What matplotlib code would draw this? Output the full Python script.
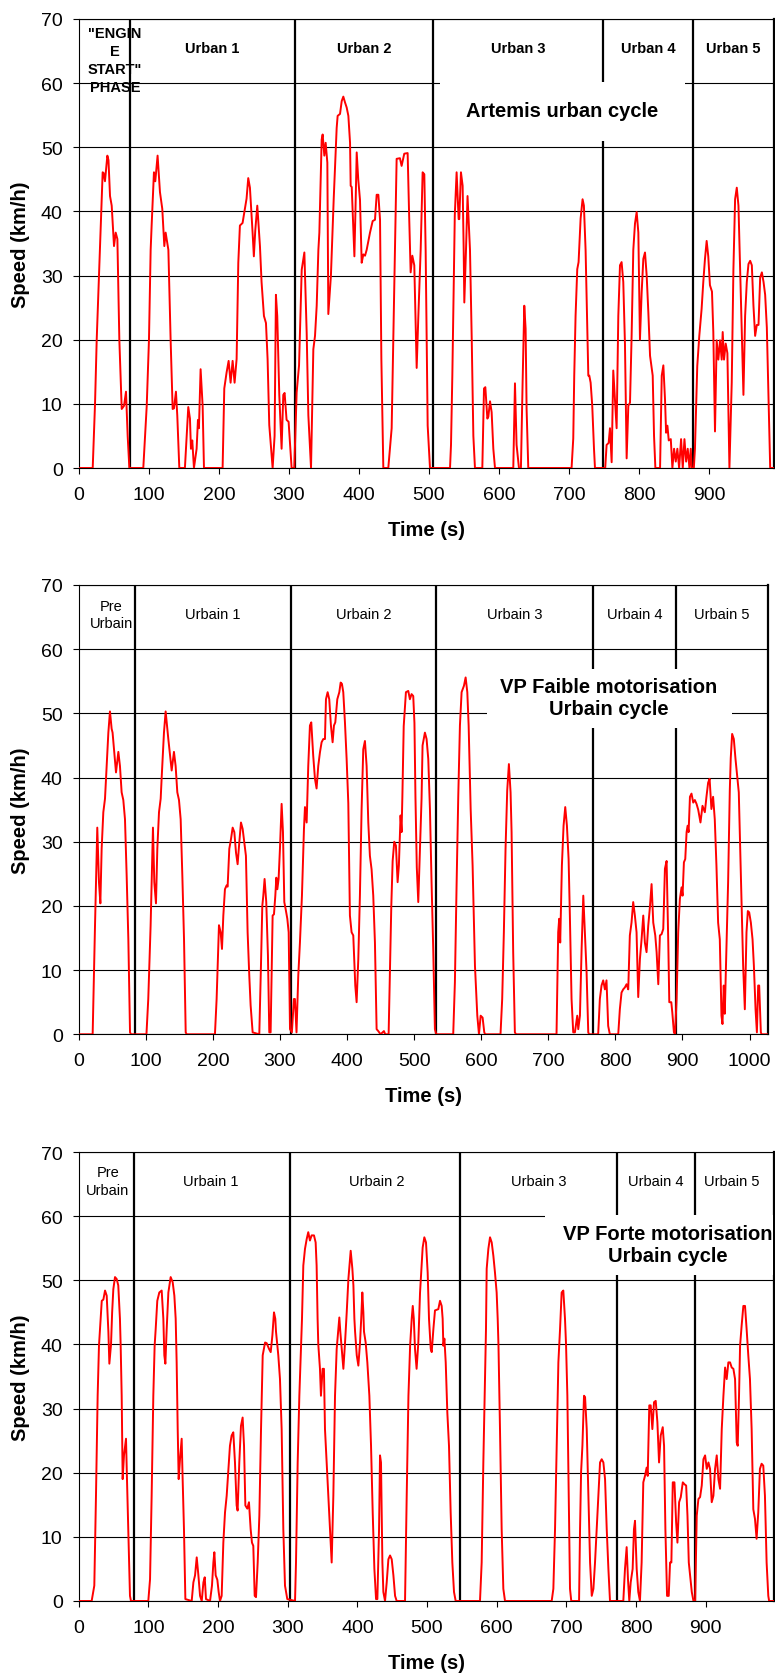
import matplotlib
matplotlib.use('Agg')
import matplotlib.pyplot as plt
import numpy as np
from matplotlib.patches import Rectangle

plt.rcParams['font.family'] = ['Liberation Sans', 'DejaVu Sans']

# ---------------- data (time s, speed km/h) ----------------
artemis_pts = [
(0,0),(20,0),(23.3,10),(25.7,20),(30.4,34.5),(34.2,46.1),(35.5,46),(37.5,44.7),(40.9,48.7),(42.5,48),(44.7,42.4),(47.1,40.9),(50.4,34.6),(52.8,36.7),(55.2,35.7),(58,20),(61.4,9.2),(64.7,9.7),(67.5,11.9),(69.9,5),(72.3,0),
(92.2,0),(97.1,9.7),(100.3,20),(102.7,34),(104.1,37.8),(107.4,46.1),(109.3,44.7),(112.6,48.7),(116,43),(119.3,40.4),(122.2,34.6),(124.1,36.7),(128,34),(131.2,20),(134.1,9.2),(136,9.3),(138.8,11.9),(140.7,8.2),(143.6,0),
(151.6,0),(156.4,9.5),(158.8,7.7),(160.2,3),(162.1,4.3),(164.5,0),(168.3,3),(170.2,7.5),(171.6,6.2),(174,15.4),(176.9,9.7),(178.8,0),
(205.4,0),(207.8,12.4),(211.1,14.9),(214,16.7),(216.8,13.3),(219.7,16.7),(222.5,13.3),(225.4,17),(227.8,32),(230.1,37.8),(233.9,38.2),(239.6,42),(242,45.2),(244.4,43.7),(248.2,36.7),(250,33),(252,37),(254.9,40.9),(258.7,34.6),(261,29),(264.4,23.7),(267.3,22.6),(269.6,17),(272,6.7),(276.8,0),(279.6,5),(281.5,27),(283.4,23.7),(286.3,11.4),(289.6,3),(292,11.4),(293.9,11.7),(296.7,7.5),(299.6,7.2),(303.9,0),(307.7,0),
(311.1,11.8),(314.5,16),(318.3,30.9),(322.1,33.6),(325.4,21.1),(327.8,8.2),(331.6,0),(334.9,18.5),(337.3,20.6),(339.7,25.3),(342.1,34),(343.5,36.7),(346.8,51.2),(348.2,52),(350.6,48.7),(352.5,50.7),(354.9,47.6),(356.3,24),(360,30),(364,42),(368.2,53),(369.6,54.9),(373,55.2),(375.4,57.2),(377.7,57.9),(380.1,57),(382.5,56.2),(384.9,54.9),(387.3,50.7),(388.2,44),(389.7,43.8),(392,37),(393.5,33),(395,40),(396.8,49.2),(399,45),(401.5,41.8),(403.9,32),(406.3,33.3),(408.7,33.1),(411,34),(415.8,36.7),(419.6,38.5),(422.9,38.7),(425.3,42.6),(427.7,42.6),(430.1,38.7),(432,17),(434.8,0),
(441.9,0),(446.7,6.2),(449.1,20),(451.4,34),(453.8,48.2),(458.5,48.3),(460.9,47.1),(464.7,49),(469.5,49.1),(471.5,40),(473.8,30.5),(476.2,33.1),(479,31.6),(482.4,15.6),(484.8,23.7),(488.1,34),(490.9,46.1),(493.3,45.8),(495.2,34),(498.1,6.6),(501.4,0),
(530,0),(531.4,3.6),(533.3,14.4),(534.7,23.7),(535.5,30),(536.8,39.4),(539.4,46.1),(542.3,38.8),(543.2,38.8),(545.6,46.1),(548,44),(549.5,34),(550.4,25.8),(552.8,34),(555,42.4),(558.5,34),(561,20),(563.3,5),(565.6,0),
(576.1,0),(578.5,12.4),(580.4,12.6),(583.3,7.7),(584.7,8),(587.1,10.4),(589.4,8.7),(591.8,3),(594.2,0),
(620.3,0),(622.7,13.2),(625,3.6),(628.4,0),(631.2,0),(633.6,13.3),(636,25.3),(637.9,21.7),(639.3,9.2),(641.7,0),
(703.5,0),(705.9,4.6),(707.3,14.4),(709.2,23.7),(711.6,31),(713.5,32.1),(716.4,38.9),(719.2,41.9),(721.1,40.9),(723.5,34),(725,26.4),(727.4,14.4),(728.8,14.4),(730.7,13.3),(733,9.7),(735.5,3),(736.9,0),
(751.5,0),(753.5,3.6),(756.4,3.9),(758.3,6.2),(760.7,0.9),(763,15.2),(765.4,10.6),(767.8,6.2),(770.2,23.7),(772.6,31.6),(774.9,32.1),(777.3,29),(779.7,19.3),(782.1,1.5),(784.5,9.7),(786.9,10.2),(789.2,20.6),(791.6,34),(794,38.1),(796.4,39.9),(798.8,36.7),(801.1,20),(803.5,27.3),(805.9,32.6),(808.3,33.6),(810.7,30),(813.1,24.2),(815.5,17.5),(819.3,14.4),(821.2,5),(823.1,0),
(829.8,0),(832.2,14.4),(834.5,16),(836.9,10.6),(838.4,5.5),(840.3,6.6),(842.2,4.3),(845.1,4.5),(847.4,0),(849.8,3),(852.2,1),(854.5,3),(857,0),(859.8,4.5),(862.2,0),(864.6,4.5),(867,1),(869.3,3),(871.7,0),(873.6,3),(875,0),(878,0),
(879.6,3),(882.9,15.9),(885.8,20.6),(889.1,24.8),(891.5,29),(893.9,32.6),(896.3,35.4),(898.6,33),(901,28.5),(903.9,27.5),(905.8,21.2),(908.2,5.7),(910.6,19.9),(913,16.9),(915.4,19.9),(917.8,16.9),(919.2,21.2),(921.1,16.9),(923.5,19.4),(925.9,17.9),(928.8,0),(932.1,13.3),(934.5,31),(936.9,41.9),(939.3,43.7),(941.7,40.9),(944.1,31),(946.5,21.2),(948.8,11.4),(951.2,23.7),(953.6,29),(956,31.8),(958.4,32.3),(960.8,31.6),(963.1,25.3),(965.5,20.6),(967.9,22.3),(970.3,22.3),(972.7,29.7),(975.1,30.5),(977.5,29),(979.8,27),(982.2,21.9),(984.6,10.6),(987,0),(993,0)]

faible_pts = [
(0,0),(20.8,0),(24.3,16.9),(27.7,32.2),(30.2,23.7),(32.3,20.4),(34.2,28.9),(36.7,34.6),(39.2,36.7),(40.7,39.8),(44.2,47),(46.6,50.3),(49.1,47.6),(50.5,47),(55.6,40.8),(59.1,44),(61.5,41.8),(64,37.7),(66.5,36.5),(69,33.5),(71.5,24.7),(74,14.8),(76.5,0.3),(78,0),
(101,0),(103.7,5.5),(107.2,16.9),(110.7,32.2),(112.7,23.7),(115.2,20.4),(117.2,28.9),(119.7,34.6),(122.2,36.7),(123.6,39.8),(127.1,47),(129.6,50.3),(132.1,47.6),(133.6,46),(138.6,41.1),(142,44),(144.5,41.8),(147,37.7),(149.5,36.5),(152,33.5),(154.5,24.7),(157,14.8),(159.5,0.3),(161,0),
(203.1,0),(205.6,5.5),(209.1,17),(211.6,15.9),(213.6,13.3),(215.6,18.5),(218,22.6),(220.5,23.2),(222,23),(224.5,28.9),(227,30.4),(229.5,32.2),(232,31.5),(234.5,28.3),(236.9,26.5),(239.4,29.9),(241.9,33),(244.4,32),(246.9,29.9),(249.3,27.8),(251.8,15.9),(254.3,9.1),(256.3,4.5),(259.3,0.3),
(269.2,0),(271.7,10.7),(273.7,20),(275.2,21.6),(277.1,24.2),(279.6,20.6),(282.1,12.3),(284.1,0.3),(286.1,0.3),(289.1,18.5),(291.1,18.7),(293.1,21.6),(294.6,24.4),(296.1,22.6),(298,24.2),(300,28.9),(302.5,35.9),(304.5,31.5),(306.5,20.6),(308.5,19.5),(311,18),(313,15.9),(315,0.8),(317.8,0.3),(320.8,5.5),(322.3,5.5),(324.7,0.3),
(327.3,9.1),(329.8,14.3),(332.8,21.6),(335.8,32),(337.3,35.4),(339.8,33),(342.2,41.8),(344.7,48.1),(346.7,48.6),(349.6,43.4),(352.2,39.8),(354.6,38.3),(357.1,41.8),(359.6,43.9),(362.1,45.5),(364.6,46),(367.1,46),(368.6,52.2),(371.1,53.3),(373.5,52.2),(376,48.1),(378.5,45.5),(380.5,48.1),(382.5,48.6),(385.5,52.2),(388.5,53.3),(390.5,54.8),(392.4,54.6),(394.4,53.3),(396.9,48.6),(399.4,42.9),(401.9,36),(404.3,18.5),(406.8,15.9),(409.3,15.4),(412.3,7.6),(414.3,5),(416.8,11.7),(419.2,21.6),(421.7,35),(424.2,44.4),(426.7,45.7),(429.2,41.8),(431.7,33),(434.1,27.8),(436.6,25.7),(439.1,21.6),(441.6,14.3),(444.1,0.8),(446.6,0.5),(450,0),(455,0.5),(457,0),
(462,0),(464,10),(466,20),(468,27),(470.4,30),(472.9,29.4),(475.4,23.7),(477.3,26.3),(479.8,34.1),(481.3,31.5),(482.5,37),(484.5,48),(487.8,53.3),(491.3,53.5),(493.7,52.2),(496.2,53),(498.7,52.7),(500.5,48.5),(502,37),(504,26),(506.2,20.6),(508.7,28.9),(511.1,36.7),(512.6,45),(516.1,47),(518.6,46),(521.1,42.9),(523.6,35.1),(526,23.7),(528.5,13.3),(531,0.8),(533,0),
(558.3,0),(560.8,8.1),(563.3,23.1),(565.8,37),(568.3,48.1),(570.8,53.3),(574.3,54.3),(576.8,55.6),(579.3,53.3),(581.3,48.1),(584.3,35.1),(587.2,26.3),(590.7,10.7),(594.2,2.9),(596.7,0),(599.2,2.9),(602.1,2.6),(604.6,0.3),(606,0),
(628.8,0),(631.3,5.5),(633.8,15.9),(636.3,28.9),(638.8,38),(641.3,42.1),(643.8,37.7),(645.3,31.5),(647.7,12.8),(650.2,0.3),(652,0),
(712.3,0),(714.8,15.9),(716.3,18),(717.8,14.3),(720.3,26.3),(722.8,32.5),(725.3,35.4),(727.8,32.5),(730.3,27.3),(732.2,18.5),(734.7,5.5),(737.2,0.3),(739.7,0.3),(743.2,2.9),(744.7,0.8),(747.2,2.9),(749.7,13.3),(752.2,21.6),(754.6,15.9),(757.1,9.7),(759.6,0.3),(761,0),
(774.4,0),(776.9,5.5),(779.4,7.6),(781.9,8.4),(784.4,7),(786.8,8.4),(789.3,1.3),(791.8,0),
(804.3,0),(806.7,3.9),(809.2,6.5),(811.7,7),(814.2,7.3),(816.7,7.8),(819.2,7),(821.6,15.4),(824.1,17.4),(826.6,20.6),(829.1,18.5),(831.6,15.9),(834.1,5.8),(836.6,11.7),(839.1,14.8),(841.6,18.5),(844,14.3),(846.5,12.8),(849,16.9),(851.5,19.8),(854,23.4),(856.5,17.4),(859.5,15.4),(861.5,12.8),(864,7.8),(866.4,15.4),(868.9,15.6),(871.4,16.4),(873.9,25.8),(876.4,27),(878.9,14.3),(880.4,5),(883.4,5),(884.9,3.4),(887.3,0.3),(889,0),
(891.3,5.5),(893.7,15.9),(896.2,21.1),(898.7,22.9),(900.2,21.6),(902.2,26.8),(904.2,27.3),(906.2,31.5),(907.7,32.5),(909.2,31.5),(911.2,37),(913.5,37.5),(916.1,36.1),(918.5,36.5),(921,35.9),(923.5,35),(926.9,33),(929.9,35.6),(933.4,34.6),(935.8,37),(938.3,39.2),(940.5,39.8),(943.2,35.1),(945.7,37),(948.2,33.5),(950.7,26.3),(953.2,17.4),(955.7,14.8),(958.2,2.9),(959.7,1.6),(961.6,7.6),(963.1,3.2),(965.6,13.3),(968.1,23.7),(970.6,38),(972,43),(974.1,46.8),(976.6,46),(979.1,42.9),(981.6,40.3),(984,37.7),(985.5,31.5),(988,21.1),(990.5,10.7),(993,3.9),(995.5,15.9),(997.5,19.2),(999.5,19),(1002,17.4),(1004.5,14.8),(1006.5,10.7),(1009,3.9),(1011,0.3),(1012.9,7.6),(1014.4,7.6),(1016.9,0.3),(1018,0),(1028,0)]

forte_pts = [
(0,0),(18.6,0),(22.4,2.4),(24.8,16.4),(27.2,32),(29.1,39.8),(30.6,42.4),(33.1,46.8),(35.4,47),(37.8,48.4),(40.2,47.6),(42.6,42),(44,37),(46.4,40),(48,45),(49.7,48.6),(52.1,50.5),(54.5,50.2),(56.8,49.2),(59.2,44),(60.2,40),(61.7,32),(63.1,19),(65,22.7),(67.9,25.3),(69.3,19),(71.2,11.2),(73.6,0.8),(75,0),
(99.9,0),(102.4,3.4),(104.7,16.4),(107.1,32),(109,39.8),(110.5,42.4),(112.8,46.8),(115.7,48.1),(119.1,48.4),(121.5,44),(122.9,38.3),(124.4,37),(126.3,42.4),(128.7,48.1),(132,50.5),(134.9,49.7),(137.3,47.6),(139.2,44),(140.6,37.2),(142.1,26.8),(143.5,19),(145.4,22.1),(147.8,25.3),(149.2,19),(151.1,11.2),(153.1,0.3),
(162.2,0),(164.6,2.9),(167,4),(169.4,6.8),(171.8,4),(174.2,0.8),(176.6,0),(179,2.9),(180.9,3.7),(182.7,0.3),(188.5,0),(191.3,2.4),(193.3,6),(194.7,7.6),(196.6,4),(199,3.3),(200.9,1.4),(202.8,0),(205.2,0.8),(207.6,9.1),(210,13.8),(212.4,16.4),(214.7,20.1),(217.1,24.2),(219.5,25.8),(221.9,26.3),(224.3,21.6),(226.7,14.9),(228.1,14.1),(230.5,21.6),(232.9,27.3),(235.3,28.6),(237.3,24.2),(239.2,14.9),(242,14.4),(244.4,15.4),(246.8,11.2),(248.7,9.1),(250.6,8.6),(252.6,0.8),(254.5,0.6),(256.9,6),(259.3,13.3),(261.7,26.8),(264.1,38.3),(267.5,40.3),(269.8,40.2),(273.2,39.3),(275.6,38.8),(278,41.4),(280.3,45),(282.2,44),(283.2,42),(286.5,38.3),(288.9,34.6),(291.3,26.8),(293.7,11.2),(296.1,2.4),(299.4,0.3),
(310.5,0),(311.9,6),(314.3,21.6),(316.7,32),(319.1,39.3),(320.5,44),(322.4,52.3),(324.8,54.9),(327.2,56.4),(329.5,57.5),(331.9,56.2),(334.3,57),(337.7,57),(340.1,55.9),(341.5,52.3),(342.9,44),(343.9,40),(346.3,36.2),(347.7,32),(350.1,36.2),(352,36.2),(353.5,26.8),(355.9,21.6),(358.3,16.4),(360.7,11.2),(363.1,6),(365.5,16.4),(367.9,32),(370.3,39.3),(372.7,42.5),(374.1,44.2),(375.5,42),(377.5,39.3),(379.9,36.2),(382.3,40.3),(384.7,45),(387.1,50.2),(390.4,54.6),(392.8,51.8),(394.3,49.2),(395.7,44),(396.7,42),(399.1,38.3),(401.4,36.7),(403.8,40.3),(405.5,44),(407.1,48.1),(408.6,45),(409.5,42),(411.9,40.3),(414.3,37.2),(417.2,32),(419.6,24.2),(422,13.8),(424.4,5),(426.8,0.3),(428.7,0.3),(431.1,11.2),(432.5,22.7),(433.9,21.6),(435.9,6),(437.3,1.4),(439.7,0),(442.1,2.9),(444.5,6.5),(446.9,7.1),(449.3,6.5),(451.7,4),(454.1,0.8),(456.4,0),
(468.4,0),(470.8,16.4),(473.3,32),(475.7,39.8),(478,44),(479.5,46),(481,44),(482.7,39.3),(485,36.2),(487.5,40.3),(489.9,48),(493.7,55.1),(496.1,56.7),(498.5,55.9),(500.9,51.2),(502.8,44),(505.3,39.3),(506.7,38.8),(509.1,42.4),(511.4,45.3),(516.2,45.5),(518.6,46.8),(521,46),(522.4,44),(523.4,39.8),(524.9,40.9),(526.8,37.2),(529.1,29.4),(531.5,24.2),(533.9,13.8),(536.3,6),(538.7,1.4),(541.1,0),
(576,0),(578.4,6),(580.8,21.6),(583.2,34.6),(584.6,42.4),(585.6,51.8),(588,54.9),(590.4,56.7),(592.8,55.9),(595.2,53.8),(597.5,51.2),(599.9,48.1),(601.4,44),(602.5,40),(604.7,26.8),(607.1,11.2),(609.5,1.9),(611.9,0),
(678.9,0),(681.3,1.9),(683.7,11.2),(686.1,24.2),(688.5,37.2),(690.9,42.4),(693.2,48.1),(695.6,48.4),(698,44),(699.5,40),(701.4,32),(703.3,16.4),(705.2,1.9),(707,0),
(718.2,0),(719.6,11.2),(721.1,20.1),(723,24.2),(725.3,32),(726.8,31.8),(729.2,26.8),(731.6,16.4),(734,6),(736.4,0.8),(738.8,1.9),(741.1,6),(743.5,11.2),(745.9,16.4),(748.3,21.6),(750.7,22.1),(753.1,21.6),(755.5,19),(757.9,11.2),(760.3,5),(762.6,0),
(781.7,0),(784.1,5),(786.5,8.4),(788.4,3.4),(790.3,0),(792.3,2.9),(795.1,5),(797,11.2),(798.5,12.5),(800.9,5),(803.2,1.4),(805.6,0),(808,6),(810.4,18.5),(812.8,19.5),(815.2,20.8),(816.7,19.5),(819,30.5),(821,30.5),(823.4,26.8),(825.8,31),(828.2,31.2),(830.6,27.9),(833,21.6),(835.4,25.8),(838.3,27.1),(840.2,24.2),(842.1,11.2),(844.5,0.8),(846.9,0.8),(848.8,6),(850.7,6),(852.7,18.5),(855.1,18.5),(857.5,12.3),(859.4,9.1),(861.8,15.4),(864.2,16.2),(867.1,18.5),(869.5,18.2),(871.9,18),(873.8,13.3),(875.7,6),(877.6,4),(880,1.4),(882.4,0),(884.8,0),
(887.1,13.3),(889.5,15.9),(891.9,16.2),(894.3,18),(896.7,22.1),(899.1,22.7),(901.5,20.6),(903.9,21.6),(906.2,20.6),(908.6,15.4),(911,16.4),(913.4,20.6),(915.8,22.7),(918.2,19),(920.6,17.5),(923,26.8),(925.4,32),(927.8,36.4),(930.1,34.6),(932.5,37.2),(934.9,37.2),(937.3,36.4),(939.7,36.2),(942.1,34.6),(944.5,24.7),(945.9,24.2),(947.8,32),(949.3,39.8),(951.6,43),(954,46),(956.4,46),(958.7,42.4),(961.1,38.3),(963.5,34.6),(965.9,26.8),(968.3,14.3),(970.7,12.8),(973,9.7),(975.4,13.8),(977.8,20.6),(980.2,21.4),(982.6,21.1),(985,16.4),(987.4,6),(989.8,0.8),(991,0),(998,0)]

# phase boundaries (s)
artemis_bounds = [73.2, 309, 506, 749, 877]
faible_bounds = [83.5, 317, 532.5, 767, 890]
forte_bounds = [80, 304, 548, 773, 885]

artemis_labels = ['"ENGIN\nE\nSTART"\nPHASE', 'Urban 1', 'Urban 2', 'Urban 3', 'Urban 4', 'Urban 5']
faible_labels = ['Pre\nUrbain', 'Urbain 1', 'Urbain 2', 'Urbain 3', 'Urbain 4', 'Urbain 5']
forte_labels = ['Pre\nUrbain', 'Urbain 1', 'Urbain 2', 'Urbain 3', 'Urbain 4', 'Urbain 5']

titles = ['Artemis urban cycle', 'VP Faible motorisation\nUrbain cycle', 'VP Forte motorisation\nUrbain cycle']

yticks = [0, 10, 20, 30, 40, 50, 60, 70]

# ---------------- layout ----------------
W, H = 775, 1674
fig = plt.figure(figsize=(W / 100, H / 100), dpi=100)

def fx(px):
    return px / W

def fy(py):
    return 1 - py / H

panels = [
    dict(pts=artemis_pts, bounds=artemis_bounds, labels=artemis_labels, lweight='bold',
         lx=[52, 191, 407.5, 627.5, 813, 934.5], ly=[63.6, 65.5, 65.5, 65.5, 65.5, 65.5],
         lls=[1.38, 1.2, 1.2, 1.2, 1.2, 1.2], left=78.7, right=773.7, top=20, bottom=469, xmax=992,
         xticks=list(range(0, 901, 100)), title=titles[0], tx=690.7, ty=55.7,
         box=(516, 866, 51.0, 60.25)),
    dict(pts=faible_pts, bounds=faible_bounds, labels=faible_labels, lweight='normal',
         lx=[48.6, 200, 425, 649.5, 828.5, 959], ly=[65.4, 65.5, 65.5, 65.5, 65.5, 65.5],
         lls=[1.3] * 6, left=78.7, right=768.3, top=586, bottom=1035.3, xmax=1028,
         xticks=list(range(0, 1001, 100)), title=titles[1], tx=790, ty=52.4,
         box=(608.6, 973.8, 47.7, 56.9)),
    dict(pts=forte_pts, bounds=forte_bounds, labels=forte_labels, lweight='normal',
         lx=[41.6, 190, 428, 660, 828, 937], ly=[65.5, 65.5, 65.5, 65.5, 65.5, 65.5],
         lls=[1.3] * 6, left=78.7, right=774, top=1153, bottom=1602, xmax=998,
         xticks=list(range(0, 901, 100)), title=titles[2], tx=845, ty=55.6,
         box=(669, 996.5, 50.8, 60.25)),
]

for p in panels:
    ax = fig.add_axes([fx(p['left']), fy(p['bottom']), fx(p['right'] - p['left']),
                       (p['bottom'] - p['top']) / H])
    t, v = np.array(p['pts'], dtype=float).T
    ax.set_xlim(0, p['xmax'])
    ax.set_ylim(0, 70)
    ax.set_yticks(yticks)
    ax.set_xticks(p['xticks'])
    ax.yaxis.grid(True, color='black', lw=0.8, zorder=1)
    ax.set_axisbelow(True)
    for s in ['left', 'bottom', 'top']:
        ax.spines[s].set_color('black')
        ax.spines[s].set_linewidth(0.8)
    ax.spines['right'].set_color('black')
    ax.spines['right'].set_linewidth(1.6)
    ax.tick_params(axis='both', direction='out', length=4.5, width=0.8,
                   labelsize=14, colors='black')
    ax.tick_params(axis='y', pad=7)
    ax.tick_params(axis='x', pad=8.5)

    for b in p['bounds']:
        ax.axvline(b, color='black', lw=1.6, zorder=2)

    x0, x1, y0, y1 = p['box']
    ax.add_patch(Rectangle((x0, y0), x1 - x0, y1 - y0, facecolor='white',
                           edgecolor='none', zorder=3))

    ax.plot(t, v, color='#ff0000', lw=1.4, zorder=4, solid_joinstyle='round')

    for lab, x, y, ls in zip(p['labels'], p['lx'], p['ly'], p['lls']):
        ax.text(x, y, lab, ha='center', va='center', multialignment='center',
                fontsize=10.5, fontweight=p['lweight'], linespacing=ls, zorder=5)

    ax.text(p['tx'], p['ty'], p['title'], ha='center', va='center',
            multialignment='center', fontsize=14.5, fontweight='bold',
            linespacing=1.2, zorder=5)

    cx = (p['left'] + p['right']) / 2
    fig.text(fx(cx), fy(p['bottom'] + 61.5), 'Time (s)', ha='center', va='center',
             fontsize=14.5, fontweight='bold')
    fig.text(fx(20.7), fy((p['top'] + p['bottom']) / 2), 'Speed (km/h)', rotation=90,
             ha='center', va='center', fontsize=14.5, fontweight='bold')

fig.savefig('out.png', dpi=100, facecolor='white')
